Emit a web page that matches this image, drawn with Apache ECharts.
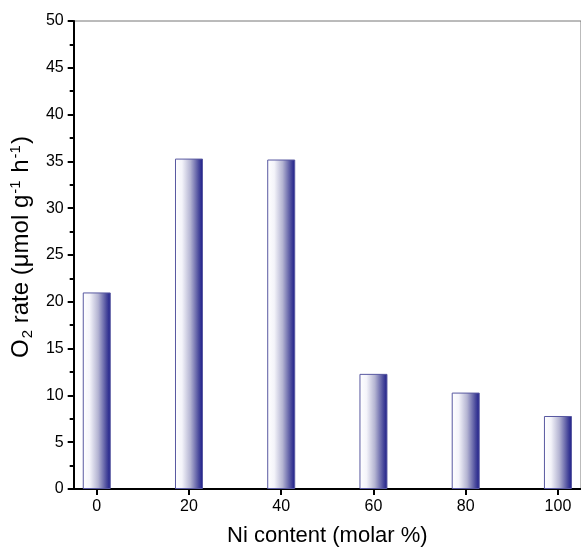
<!DOCTYPE html>
<html>
<head>
<meta charset="utf-8">
<script src="https://cdn.jsdelivr.net/npm/echarts@6/dist/echarts.min.js"></script>
<style>
  html, body { margin: 0; padding: 0; background: #fff; }
  #chart { width: 581px; height: 552px; }
</style>
</head>
<body>
<div id="chart"></div>
<script>
// Ni content (molar %) and the matching O2 evolution rates
const niContent = [0, 20, 40, 60, 80, 100];
const o2Rate = [21.0, 35.3, 35.2, 12.3, 10.3, 7.8];
const xTicks = [0, 20, 40, 60, 80, 100];

const FONT = '"Liberation Sans", Arial, sans-serif';

const chart = echarts.init(document.getElementById('chart'), null, { renderer: 'canvas' });

const barFill = new echarts.graphic.LinearGradient(0, 0, 1, 0, [
  { offset: 0, color: '#ffffff' },
  { offset: 0.25, color: '#f4f4fa' },
  { offset: 0.55, color: '#b4b4d2' },
  { offset: 0.85, color: '#4a4a9c' },
  { offset: 1, color: '#1a1a88' }
]);

chart.setOption({
  animation: false,
  backgroundColor: '#ffffff',
  grid: {
    left: 71, top: 21, bottom: 58, width: 514,
    show: true, borderColor: '#777', borderWidth: 1, backgroundColor: 'transparent'
  },
  xAxis: {
    type: 'value',
    min: -5, max: 105,
    name: 'Ni content (molar %)',
    nameLocation: 'middle',
    nameGap: 36,
    nameTextStyle: { fontFamily: FONT, fontSize: 22, color: '#000' },
    axisLine: { onZero: false, lineStyle: { color: '#000', width: 2 } },
    axisTick: { customValues: xTicks, length: 6, lineStyle: { color: '#000', width: 2 } },
    axisLabel: { customValues: xTicks, margin: 10, fontFamily: FONT, fontSize: 16, color: '#000' },
    splitLine: { show: false }
  },
  yAxis: {
    type: 'value',
    min: 0, max: 50, interval: 5,
    name: '{n|O}{sub|2}{n| rate (μmol g}{sup|-1}{n| h}{sup|-1}{n|)}',
    nameLocation: 'middle',
    nameGap: 34,
    nameRotate: 90,
    nameTextStyle: {
      fontFamily: FONT, fontSize: 24, color: '#000',
      padding: [0, 0, 0, 16],
      rich: {
        n: { fontFamily: FONT, fontSize: 24, color: '#000' },
        sub: { fontFamily: FONT, fontSize: 15, color: '#000', verticalAlign: 'bottom', padding: [12, 0, 0, 1] },
        sup: { fontFamily: FONT, fontSize: 15, color: '#000', verticalAlign: 'top', padding: [0, 1, 10, 1] }
      }
    },
    axisLine: { onZero: false, lineStyle: { color: '#000', width: 2 } },
    axisTick: { length: 6, lineStyle: { color: '#000', width: 2 } },
    minorTick: { show: true, splitNumber: 2, length: 4, lineStyle: { color: '#000', width: 2 } },
    axisLabel: { margin: 10, fontFamily: FONT, fontSize: 16, color: '#000' },
    splitLine: { show: false }
  },
  series: [{
    type: 'bar',
    barWidth: 28,
    data: niContent.map((x, i) => [x, o2Rate[i]]),
    itemStyle: { color: barFill, borderColor: '#5858a0', borderWidth: 1 }
  }]
});
</script>
</body>
</html>
